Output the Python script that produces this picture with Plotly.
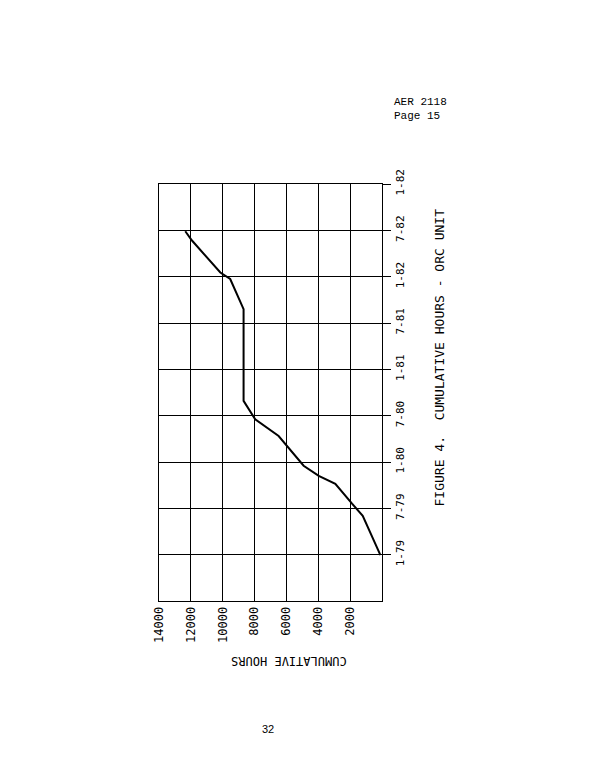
import plotly.graph_objects as go

# cumulative hours vs. semester position (0 = 7-78, 1 = 1-79, ... 9 = top)
period_pos = [0.99, 1.84, 2.10, 2.53, 2.70, 2.92, 3.56, 3.92, 4.32, 6.30, 6.95, 7.09, 7.78, 7.98]
cum_hours = [100, 1210, 1880, 2930, 3970, 4920, 6490, 7960, 8690, 8690, 9530, 10150, 11930, 12350]

date_ticks = [1, 2, 3, 4, 5, 6, 7, 8, 9]
date_labels = ["1-79", "7-79", "1-80", "7-80", "1-81", "7-81", "1-82", "7-82", "1-82"]
hour_ticks = [2000, 4000, 6000, 8000, 10000, 12000, 14000]

FONT = "DejaVu Sans Mono"

fig = go.Figure()
fig.add_trace(go.Scatter(x=cum_hours, y=period_pos, mode="lines",
                         line=dict(color="black", width=2), showlegend=False))

fig.update_xaxes(range=[14000, 0], tickvals=hour_ticks,
                 ticktext=[str(v) for v in hour_ticks], tickangle=-90,
                 showgrid=True, gridcolor="black", gridwidth=1, zeroline=False,
                 showline=True, linecolor="black", linewidth=1, mirror=True,
                 ticks="", automargin=False,
                 tickfont=dict(family=FONT, size=12, color="black"))
fig.update_yaxes(range=[0, 9], tickvals=date_ticks, ticktext=date_labels,
                 side="right", tickangle=-90, automargin=False,
                 showgrid=True, gridcolor="black", gridwidth=1, zeroline=False,
                 showline=True, linecolor="black", linewidth=1, mirror=True,
                 ticks="outside", ticklen=8, tickcolor="black",
                 tickfont=dict(family=FONT, size=11, color="black"))

fig.add_annotation(text="CUMULATIVE HOURS", xref="paper", yref="paper",
                   x=0.58, y=-0.165, textangle=180, showarrow=False,
                   font=dict(family=FONT, size=12, color="black"))
fig.add_annotation(text="FIGURE 4.  CUMULATIVE HOURS - ORC UNIT", xref="paper", yref="paper",
                   x=1.30, y=0.585, textangle=-90, showarrow=False,
                   font=dict(family=FONT, size=13, color="black"))
fig.add_annotation(text="AER 2118<br>Page 15", xref="paper", yref="paper",
                   x=1.30, y=1.215, showarrow=False, align="left",
                   font=dict(family="Liberation Mono", size=11, color="black"))
fig.add_annotation(text="32", xref="paper", yref="paper",
                   x=0.49, y=-0.325, showarrow=False,
                   font=dict(family="Liberation Sans", size=11, color="black"))

fig.update_layout(width=612, height=779, paper_bgcolor="white", plot_bgcolor="white",
                  margin=dict(l=151, r=238, t=176, b=186))

fig.write_html("out.html")
